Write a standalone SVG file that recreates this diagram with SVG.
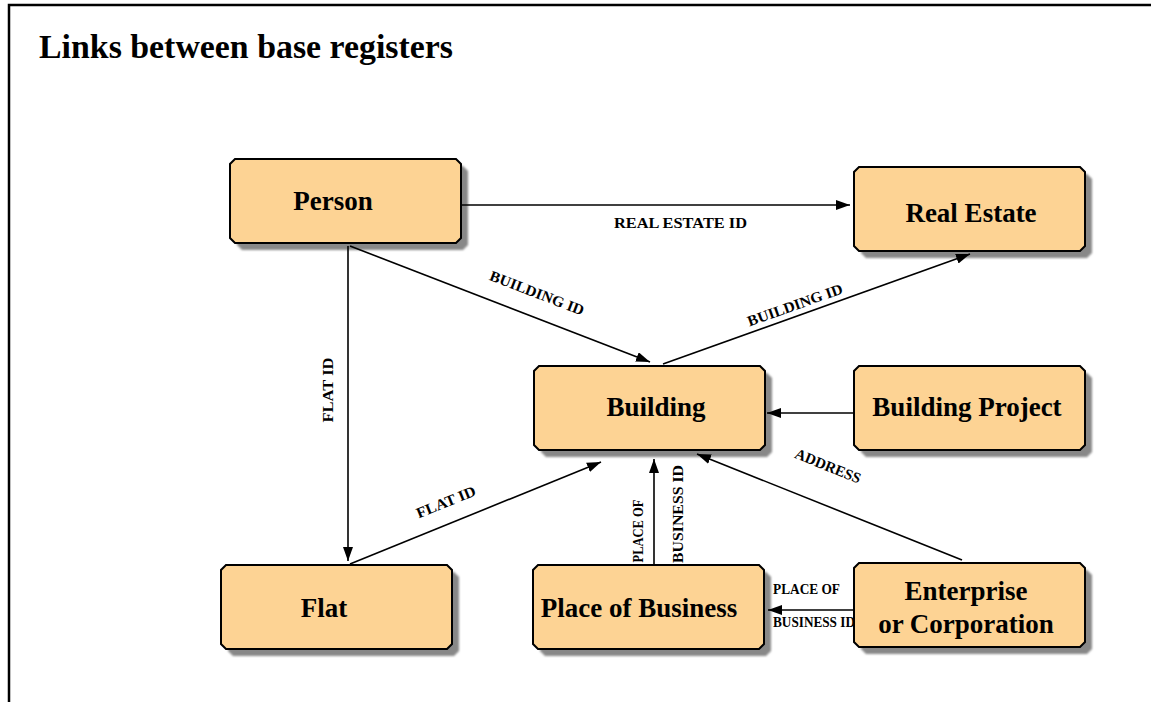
<svg xmlns="http://www.w3.org/2000/svg" xmlns:xlink="http://www.w3.org/1999/xlink" width="1151" height="702" viewBox="0 0 1151 702">
<style>
.bg{fill:#fff}
.frame{stroke:#000;stroke-width:2.5;fill:none}
.shadow{fill:#888;filter:url(#blur)}
.box{fill:#fdd394;stroke:#000;stroke-width:2}
.title{font-family:"Liberation Serif","Times New Roman",serif;font-weight:bold;font-size:34px;fill:#000}
.node{font-family:"Liberation Serif","Times New Roman",serif;font-weight:bold;font-size:27px;fill:#000;text-anchor:middle}
.edge{stroke:#000;stroke-width:1.6;fill:none;marker-end:url(#arrow)}
.lbl{font-family:"Liberation Serif","Times New Roman",serif;font-weight:bold;font-size:15px;fill:#000}
.mid{text-anchor:middle}
</style>
<defs>
<filter id="blur" x="-10%" y="-10%" width="120%" height="120%"><feGaussianBlur stdDeviation="1.3"/></filter>
<marker id="arrow" markerUnits="userSpaceOnUse" markerWidth="15" markerHeight="11" refX="14" refY="5" orient="auto">
<path d="M0,0 L14,5 L0,10 Z" fill="#000"/>
</marker>
<path id="boxshape" d="M5,0 H226 L231,5 V79 L226,84 H5 L0,79 V5 Z"/>
</defs>
<rect class="bg" x="0" y="0" width="1151" height="702"/>
<path class="frame" d="M9,702 V5 H1151"/>
<text class="title" x="39" y="58" textLength="414" lengthAdjust="spacingAndGlyphs">Links between base registers</text>

<g id="node-person" transform="translate(230,159)">
<use xlink:href="#boxshape" class="shadow" x="7" y="7"/>
<use xlink:href="#boxshape" class="box"/>
<text class="node" x="103" y="51">Person</text>
</g>
<g id="node-real-estate" transform="translate(854,167)">
<use xlink:href="#boxshape" class="shadow" x="7" y="7"/>
<use xlink:href="#boxshape" class="box"/>
<text class="node" x="117" y="55">Real Estate</text>
</g>
<g id="node-building" transform="translate(534,366)">
<use xlink:href="#boxshape" class="shadow" x="7" y="7"/>
<use xlink:href="#boxshape" class="box"/>
<text class="node" x="122" y="50">Building</text>
</g>
<g id="node-building-project" transform="translate(854,366)">
<use xlink:href="#boxshape" class="shadow" x="7" y="7"/>
<use xlink:href="#boxshape" class="box"/>
<text class="node" x="113" y="50">Building Project</text>
</g>
<g id="node-flat" transform="translate(221,565)">
<use xlink:href="#boxshape" class="shadow" x="7" y="7"/>
<use xlink:href="#boxshape" class="box"/>
<text class="node" x="103" y="52">Flat</text>
</g>
<g id="node-place-of-business" transform="translate(533,565)">
<use xlink:href="#boxshape" class="shadow" x="7" y="7"/>
<use xlink:href="#boxshape" class="box"/>
<text class="node" x="106" y="52">Place of Business</text>
</g>
<g id="node-enterprise" transform="translate(854,563)">
<use xlink:href="#boxshape" class="shadow" x="7" y="7"/>
<use xlink:href="#boxshape" class="box"/>
<text class="node" x="112" y="37">Enterprise</text>
<text class="node" x="112" y="70">or Corporation</text>
</g>

<g id="connectors">
<line class="edge" x1="462" y1="205" x2="850" y2="205"/>
<text class="lbl" x="614" y="228" textLength="133" lengthAdjust="spacingAndGlyphs">REAL ESTATE ID</text>

<line class="edge" x1="350" y1="246" x2="650" y2="362"/>
<text class="lbl mid" transform="translate(537,293) rotate(21.1)" y="5" textLength="100" lengthAdjust="spacingAndGlyphs">BUILDING ID</text>

<line class="edge" x1="663" y1="364" x2="970" y2="254"/>
<text class="lbl mid" transform="translate(795,305) rotate(-19.7)" y="5" textLength="100" lengthAdjust="spacingAndGlyphs">BUILDING ID</text>

<line class="edge" x1="348" y1="246" x2="348" y2="561"/>
<text class="lbl mid" transform="translate(328,390) rotate(-90)" y="5" textLength="65" lengthAdjust="spacingAndGlyphs">FLAT ID</text>

<line class="edge" x1="350" y1="564" x2="601" y2="462"/>
<text class="lbl mid" transform="translate(446,502) rotate(-22)" y="5" textLength="63" lengthAdjust="spacingAndGlyphs">FLAT ID</text>

<line class="edge" x1="854" y1="413" x2="767" y2="413"/>

<line class="edge" x1="654" y1="565" x2="654" y2="459"/>
<text class="lbl mid" transform="translate(637.5,531) rotate(-90)" y="5" textLength="63" lengthAdjust="spacingAndGlyphs">PLACE OF</text>
<text class="lbl mid" transform="translate(677.5,514) rotate(-90)" y="5" textLength="98" lengthAdjust="spacingAndGlyphs">BUSINESS ID</text>

<line class="edge" x1="962" y1="560" x2="697" y2="454"/>
<text class="lbl mid" transform="translate(828,466) rotate(22)" y="5" textLength="70" lengthAdjust="spacingAndGlyphs">ADDRESS</text>

<line class="edge" x1="854" y1="610" x2="768" y2="610"/>
<text class="lbl" x="773" y="594" font-size="13" textLength="67" lengthAdjust="spacingAndGlyphs">PLACE OF</text>
<text class="lbl" x="773" y="627" font-size="13" textLength="82" lengthAdjust="spacingAndGlyphs">BUSINESS ID</text>
</g>
</svg>
